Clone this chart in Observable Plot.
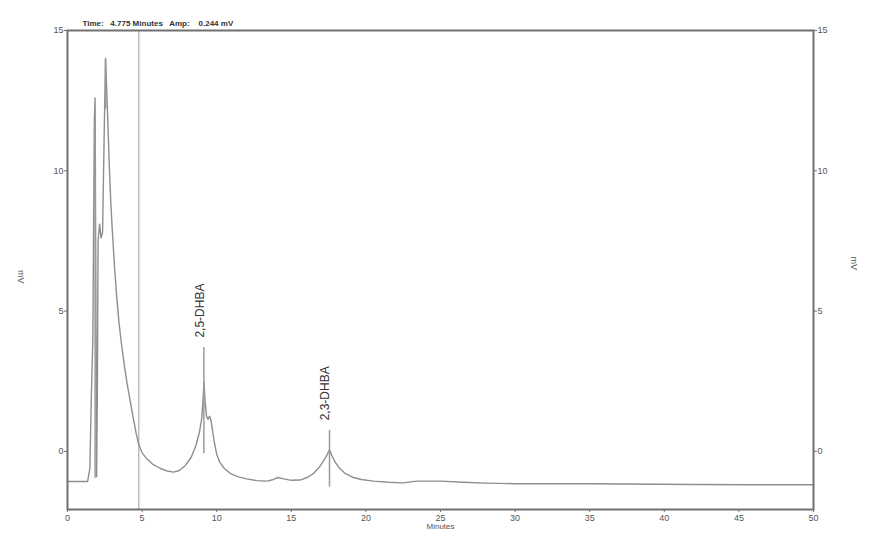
<!DOCTYPE html>
<html>
<head>
<meta charset="utf-8">
<script src="https://cdn.jsdelivr.net/npm/d3@7"></script>
<script src="https://cdn.jsdelivr.net/npm/@observablehq/plot@0.6"></script>
<style>
  html, body { margin: 0; padding: 0; background: #fff; }
  #chart { width: 885px; height: 553px; }
  svg { font-family: "Liberation Sans", Arial, sans-serif; }
</style>
</head>
<body>
<div id="chart"></div>
<script>
// Chromatogram trace (time in minutes, signal in mV)
const times = [0, 1.35, 1.5, 1.6, 1.7, 1.75, 1.8, 1.85, 1.9, 1.95, 2.0, 2.05, 2.15, 2.25, 2.35, 2.45, 2.55, 2.62, 2.7, 2.8, 2.9, 3.0, 3.15, 3.3, 3.45, 3.6, 3.8, 4.0, 4.2, 4.4, 4.6, 4.775, 5.0, 5.3, 5.7, 6.2, 6.7, 7.1, 7.5, 7.9, 8.3, 8.6, 8.85, 9.0, 9.08, 9.15, 9.22, 9.32, 9.42, 9.52, 9.62, 9.72, 9.85, 10.0, 10.2, 10.5, 10.9, 11.4, 12.0, 12.7, 13.4, 13.8, 14.1, 14.5, 15.0, 15.6, 16.1, 16.5, 16.9, 17.2, 17.4, 17.56, 17.7, 17.9, 18.2, 18.6, 19.1, 19.7, 20.5, 21.5, 22.5, 23.4, 25.0, 26.5, 28.0, 30.0, 35.0, 39.5, 42.0, 46.0, 50.0];
const signal = [-1.07, -1.07, -0.6, 2.0, 4.0, 8.0, 11.8, 12.6, 6.0, -0.9, 2.0, 7.5, 8.1, 7.6, 7.8, 11.0, 14.0, 13.0, 11.8, 10.2, 8.9, 7.9, 6.6, 5.5, 4.6, 3.9, 3.1, 2.4, 1.8, 1.2, 0.65, 0.244, -0.05, -0.25, -0.45, -0.6, -0.7, -0.74, -0.68, -0.5, -0.2, 0.2, 0.7, 1.2, 1.8, 2.46, 1.8, 1.25, 1.15, 1.25, 1.1, 0.75, 0.3, -0.1, -0.38, -0.6, -0.78, -0.9, -0.98, -1.04, -1.06, -1.0, -0.93, -0.98, -1.03, -1.02, -0.92, -0.78, -0.55, -0.3, -0.12, 0.06, -0.12, -0.35, -0.58, -0.78, -0.92, -1.0, -1.06, -1.1, -1.12, -1.06, -1.06, -1.1, -1.13, -1.15, -1.15, -1.17, -1.18, -1.19, -1.19];

// Peak markers
const markerTimes = [1.85, 2.55, 9.14, 17.56];
const markerTops = [11.8, 14.0, 3.7, 0.75];
const markerBottoms = [-0.96, 12.2, -0.08, -1.27];
const markerLabels = ["", "", "2,5-DHBA", "2,3-DHBA"];

// Cursor readout
const cursorTime = 4.775;
const cursorAmp = 0.244;
const headerText = "Time:   4.775 Minutes   Amp:    0.244 mV";

// Axes
const xTicks = [0, 5, 10, 15, 20, 25, 30, 35, 40, 45, 50];
const yTicks = [0, 5, 10, 15];
const xLabel = "Minutes";
const yLabel = "mV";

const trace = times.map((t, i) => ({t, v: signal[i]}));
const markers = markerTimes.map((t, i) => ({t, top: markerTops[i], bottom: markerBottoms[i], label: markerLabels[i]}));
const labelled = markers.filter(d => d.label);

const tickStyle = {fontSize: 9, fill: "#555"};

const chart = Plot.plot({
  width: 885,
  height: 553,
  marginLeft: 67,
  marginRight: 72,
  marginTop: 30,
  marginBottom: 44,
  x: {domain: [0, 50]},
  y: {domain: [-2.07, 15]},
  style: {fontFamily: "Liberation Sans, Arial, sans-serif", background: "#fff"},
  marks: [
    Plot.ruleX([cursorTime], {stroke: "#bdbdbd", strokeWidth: 1.5}),
    Plot.line(trace, {x: "t", y: "v", stroke: "#8e8e8e", strokeWidth: 1.4}),
    Plot.ruleX(markers, {x: "t", y1: "bottom", y2: "top", stroke: "#9a9a9a", strokeWidth: 1.5}),
    Plot.text(labelled, {x: "t", y: "top", text: "label", rotate: -90, textAnchor: "start", lineAnchor: "middle", dx: -4, dy: -10, fontSize: 12, fill: "#333"}),
    Plot.frame({stroke: "#707070", strokeWidth: 2}),
    Plot.axisY({ticks: yTicks, anchor: "left", tickSize: 3, tickPadding: 1, label: null, ...tickStyle, stroke: "#707070"}),
    Plot.axisY({ticks: yTicks, anchor: "right", tickSize: 3, tickPadding: 1, label: null, ...tickStyle, stroke: "#707070"}),
    Plot.axisX({ticks: xTicks, anchor: "bottom", tickSize: 3, tickPadding: 2, label: null, ...tickStyle, stroke: "#707070"}),
    Plot.text([yLabel], {frameAnchor: "left", dx: -47, text: d => d, rotate: 90, fontSize: 9, fill: "#555"}),
    Plot.text([yLabel], {frameAnchor: "right", dx: 40, text: d => d, rotate: 90, fontSize: 9, fill: "#555"}),
    Plot.text([xLabel], {frameAnchor: "bottom", dy: 19, text: d => d, fontSize: 8, fill: "#555"}),
    Plot.text([headerText], {frameAnchor: "top-left", dx: 15, dy: -10, text: d => d, textAnchor: "start", fontSize: 8, fill: "#333", fontWeight: "bold"})
  ]
});
chart.style.whiteSpace = "pre";
document.getElementById("chart").appendChild(chart);
</script>
</body>
</html>
